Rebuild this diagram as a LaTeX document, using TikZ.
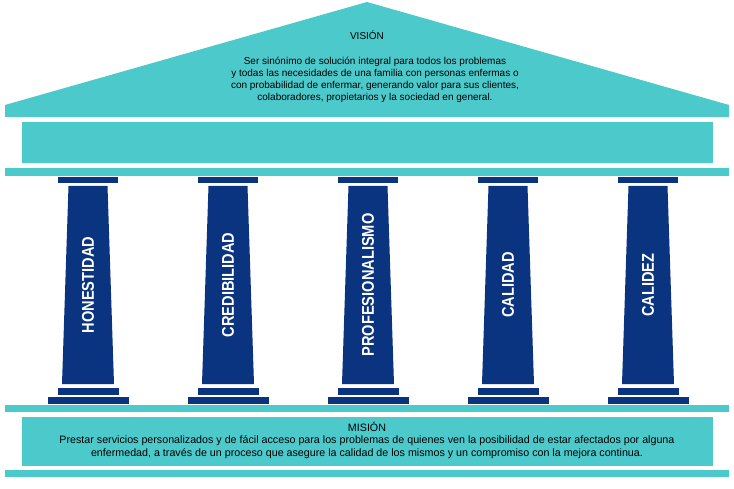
\documentclass[tikz,border=0pt]{standalone}
\usepackage{fontspec}
\setmainfont{Liberation Sans}
\usepackage{tikz}
\usetikzlibrary{calc}
\definecolor{turquesa}{HTML}{4CC9CB}
\definecolor{marino}{HTML}{0A3380}
\tikzset{
  losa/.style={fill=turquesa, draw=none},
  piedra/.style={fill=marino, draw=none},
  valor/.style={text=white, font=\bfseries\fontsize{17}{17}\selectfont, rotate=90, inner sep=0pt},
  texto/.style={align=center, font=\fontsize{10}{12}\selectfont, inner sep=0pt},
  textoancho/.style={align=center, font=\fontsize{10.7}{12.5}\selectfont, inner sep=0pt}
}
\newcommand{\columna}[3]{%
  \fill[piedra] ($(#1,177)+(-30,0)$) rectangle ($(#1,183)+(30,0)$);
  \fill[piedra] ($(#1,186)+(-19.5,0)$) -- ($(#1,186)+(19.5,0)$) -- ($(#1,384)+(26,0)$) -- ($(#1,384)+(-26,0)$) -- cycle;
  \fill[piedra] ($(#1,388)+(-30.5,0)$) rectangle ($(#1,395)+(30.5,0)$);
  \fill[piedra] ($(#1,397)+(-40.5,0)$) rectangle ($(#1,404)+(40.5,0)$);
  \node[valor] (#2) at (#1,285) {\scalebox{0.86}[1]{#3}};
}
\begin{document}
\begin{tikzpicture}[x=1pt, y=-1pt]
  \useasboundingbox (0,0) rectangle (734,489);
  % techo
  \fill[losa] (5,117) -- (5,105) -- (367,2) -- (729,105) -- (729,117) -- cycle;
  \node[texto] (vision) at (367,35) {VISIÓN};
  \node[texto] (visiontxt) at (375,80) {Ser sinónimo de solución integral para todos los problemas\\
    y todas las necesidades de una familia con personas enfermas o\\
    con probabilidad de enfermar, generando valor para sus clientes,\\
    colaboradores, propietarios y la sociedad en general.};
  \fill[losa] (22,122) rectangle (713,163);
  \fill[losa] (5,168) rectangle (729,176);
  % columnas
  \columna{88}{hon}{HONESTIDAD}
  \columna{228}{cre}{CREDIBILIDAD}
  \columna{368}{pro}{PROFESIONALISMO}
  \columna{508}{cal}{CALIDAD}
  \columna{648}{cz}{CALIDEZ}
  % base
  \fill[losa] (5,405) rectangle (729,412);
  \fill[losa] (22,417) rectangle (713,466);
  \node[textoancho] (mision) at (367,427) {MISIÓN};
  \node[textoancho] (misiontxt) at (367,447) {Prestar servicios personalizados y de fácil acceso para los problemas de quienes ven la posibilidad de estar afectados por alguna\\
    enfermedad, a través de un proceso que asegure la calidad de los mismos y un compromiso con la mejora continua.};
  \fill[losa] (5,470) rectangle (729,477);
\end{tikzpicture}
\end{document}
